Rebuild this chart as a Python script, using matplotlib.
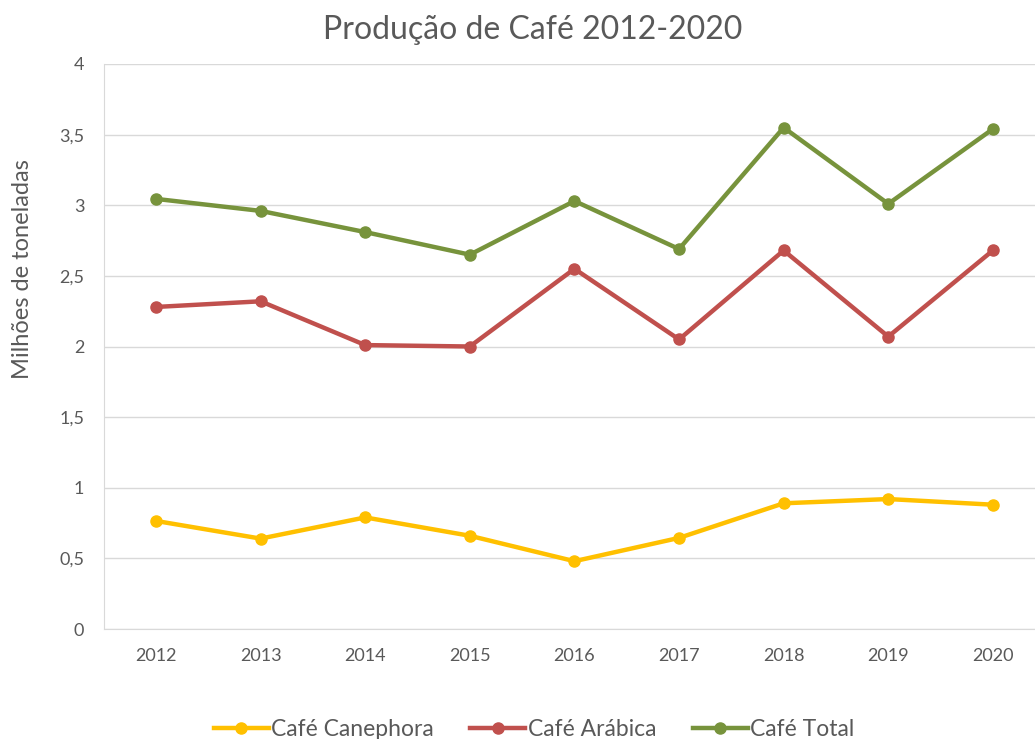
import matplotlib.pyplot as plt
import numpy as np

anos = ['2012', '2013', '2014', '2015', '2016', '2017', '2018', '2019', '2020']
canephora = [0.765, 0.64, 0.79, 0.66, 0.48, 0.645, 0.89, 0.92, 0.88]
arabica = [2.28, 2.32, 2.01, 2.00, 2.55, 2.05, 2.68, 2.07, 2.68]
total = [3.045, 2.96, 2.81, 2.65, 3.03, 2.69, 3.55, 3.01, 3.54]

plt.rcParams['font.family'] = ['Lato', 'DejaVu Sans']

fig = plt.figure(figsize=(10.35, 7.39), dpi=100)
W, H = 1035, 739
ax = fig.add_axes([103.7 / W, (H - 629) / H, 941.5 / W, 565 / H])

x = np.arange(len(anos))
ax.plot(x, canephora, color='#FFC000', lw=3.2, marker='o', ms=8, label='Café Canephora')
ax.plot(x, arabica, color='#C0504D', lw=3.2, marker='o', ms=8, label='Café Arábica')
ax.plot(x, total, color='#77933C', lw=3.2, marker='o', ms=8, label='Café Total')

ax.set_xlim(-0.5, len(anos) - 0.5)
ax.set_ylim(0, 4)
ax.set_xticks(x)
ax.set_xticklabels(anos)
ax.set_yticks(np.arange(0, 4.01, 0.5))
ax.set_yticklabels(['0', '0,5', '1', '1,5', '2', '2,5', '3', '3,5', '4'])
ax.tick_params(length=0, labelsize=13, colors='#595959')
ax.tick_params(axis='x', pad=14)
ax.tick_params(axis='y', pad=14)
ax.grid(axis='y', color='#D9D9D9', lw=1)
ax.set_axisbelow(True)
for s in ['top', 'right']:
    ax.spines[s].set_visible(False)
ax.spines['left'].set_color('#D9D9D9')
ax.spines['bottom'].set_color('#D9D9D9')

fig.text(23 / W, 1 - 269 / H, 'Milhões de toneladas', rotation=90, ha='center', va='center',
         fontsize=17, color='#595959')
fig.text(533 / W, 1 - 30 / H, 'Produção de Café 2012-2020', ha='center', va='center',
         fontsize=23, color='#595959')

fig.legend(loc='center', bbox_to_anchor=(534 / W, 1 - 730 / H), ncol=3, frameon=False,
           fontsize=16.5, handlelength=2.4, handletextpad=0.1, columnspacing=1.6,
           labelcolor='#595959')

fig.savefig('out.png', dpi=100)
